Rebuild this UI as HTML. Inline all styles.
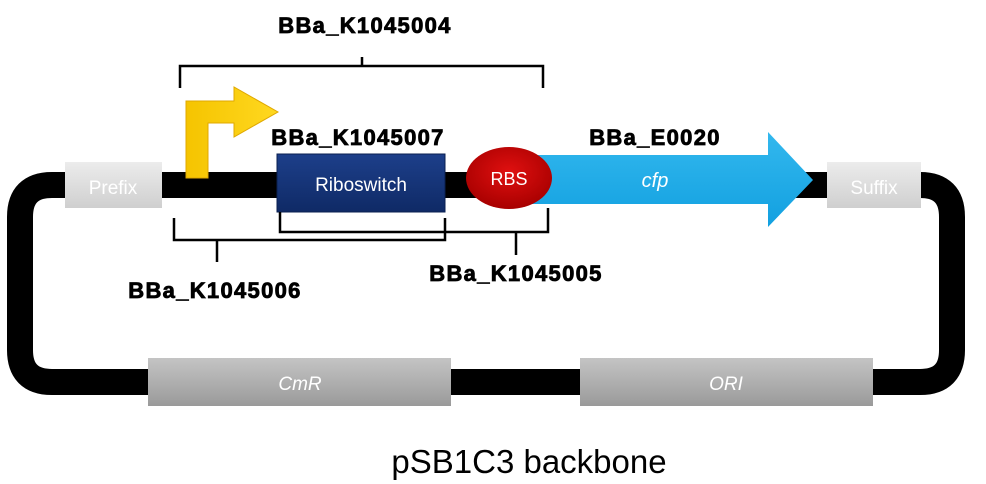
<!DOCTYPE html>
<html><head><meta charset="utf-8"><style>
html,body{margin:0;padding:0;background:#fff}
svg{display:block}
.lbl{font-family:"Liberation Sans",sans-serif;font-weight:900;font-size:22px;fill:#000;letter-spacing:1.3px;stroke:#000;stroke-width:0.8px}
</style></head><body>
<svg width="986" height="484" viewBox="0 0 986 484" xmlns="http://www.w3.org/2000/svg">
<defs>
<linearGradient id="gl" x1="0" y1="0" x2="0" y2="1"><stop offset="0" stop-color="#ececec"/><stop offset="1" stop-color="#cfcfcf"/></linearGradient>
<linearGradient id="gd" x1="0" y1="0" x2="0" y2="1"><stop offset="0" stop-color="#c4c4c4"/><stop offset="1" stop-color="#9a9a9a"/></linearGradient>
<linearGradient id="gb" x1="0" y1="0" x2="0" y2="1"><stop offset="0" stop-color="#1d3f8a"/><stop offset="1" stop-color="#0f2a66"/></linearGradient>
<linearGradient id="gc" x1="0" y1="0" x2="0" y2="1"><stop offset="0" stop-color="#33b8ee"/><stop offset="1" stop-color="#12a0e0"/></linearGradient>
<radialGradient id="gr" cx="0.5" cy="0.4" r="0.6"><stop offset="0" stop-color="#e01010"/><stop offset="1" stop-color="#a80000"/></radialGradient>
<linearGradient id="gy" x1="0" y1="0" x2="1" y2="0"><stop offset="0" stop-color="#f5c400"/><stop offset="1" stop-color="#ffd820"/></linearGradient>
</defs>
<path d="M60 185 H920 Q952 185 952 217 V350 Q952 382 920 382 H52 Q20 382 20 350 V217 Q20 185 52 185 Z" fill="none" stroke="#000" stroke-width="26"/>
<rect x="65" y="162" width="97" height="46" fill="url(#gl)"/>
<text x="113" y="194" text-anchor="middle" font-family="Liberation Sans,sans-serif" font-size="19" fill="#fff">Prefix</text>
<rect x="827" y="162" width="94" height="46" fill="url(#gl)"/>
<text x="874" y="194" text-anchor="middle" font-family="Liberation Sans,sans-serif" font-size="19" fill="#fff">Suffix</text>
<rect x="148" y="358" width="303" height="48" fill="url(#gd)"/>
<text x="300" y="390" text-anchor="middle" font-family="Liberation Sans,sans-serif" font-style="italic" font-size="19" fill="#fff">CmR</text>
<rect x="580" y="358" width="293" height="48" fill="url(#gd)"/>
<text x="726" y="390" text-anchor="middle" font-family="Liberation Sans,sans-serif" font-style="italic" font-size="19" fill="#fff">ORI</text>
<path d="M186 178 V101 H234 V87 L278 112 L234 137 V123 H208 V178 Z" fill="url(#gy)" stroke="#e0a800" stroke-width="1"/>
<rect x="277" y="154" width="168" height="58" fill="url(#gb)" stroke="#0a1f50" stroke-width="1"/>
<text x="361" y="191" text-anchor="middle" font-family="Liberation Sans,sans-serif" font-size="19" fill="#fff">Riboswitch</text>
<path d="M530 155 H768 V132 L813 180 L768 227 V204 H530 Z" fill="url(#gc)"/>
<text x="655" y="187" text-anchor="middle" font-family="Liberation Sans,sans-serif" font-style="italic" font-size="20" fill="#fff">cfp</text>
<ellipse cx="509" cy="178" rx="43" ry="31" fill="url(#gr)"/>
<text x="509" y="185" text-anchor="middle" font-family="Liberation Sans,sans-serif" font-size="18" fill="#fff">RBS</text>
<g fill="none" stroke="#000" stroke-width="2.5">
<path d="M180 88 V66 H543 V88 M362 66 V57"/>
<path d="M174 218 V240 H445 V218 M217 240 V262"/>
<path d="M280 212 V232 H548 V208 M516 232 V255"/>
</g>
<text class="lbl" x="365" y="33" text-anchor="middle">BBa_K1045004</text>
<text class="lbl" x="358" y="145" text-anchor="middle">BBa_K1045007</text>
<text class="lbl" x="655" y="145" text-anchor="middle">BBa_E0020</text>
<text class="lbl" x="215" y="298" text-anchor="middle">BBa_K1045006</text>
<text class="lbl" x="516" y="281" text-anchor="middle">BBa_K1045005</text>
<text x="529" y="473" text-anchor="middle" font-family="Liberation Sans,sans-serif" font-size="33" fill="#000">pSB1C3 backbone</text>
</svg>
</body></html>
